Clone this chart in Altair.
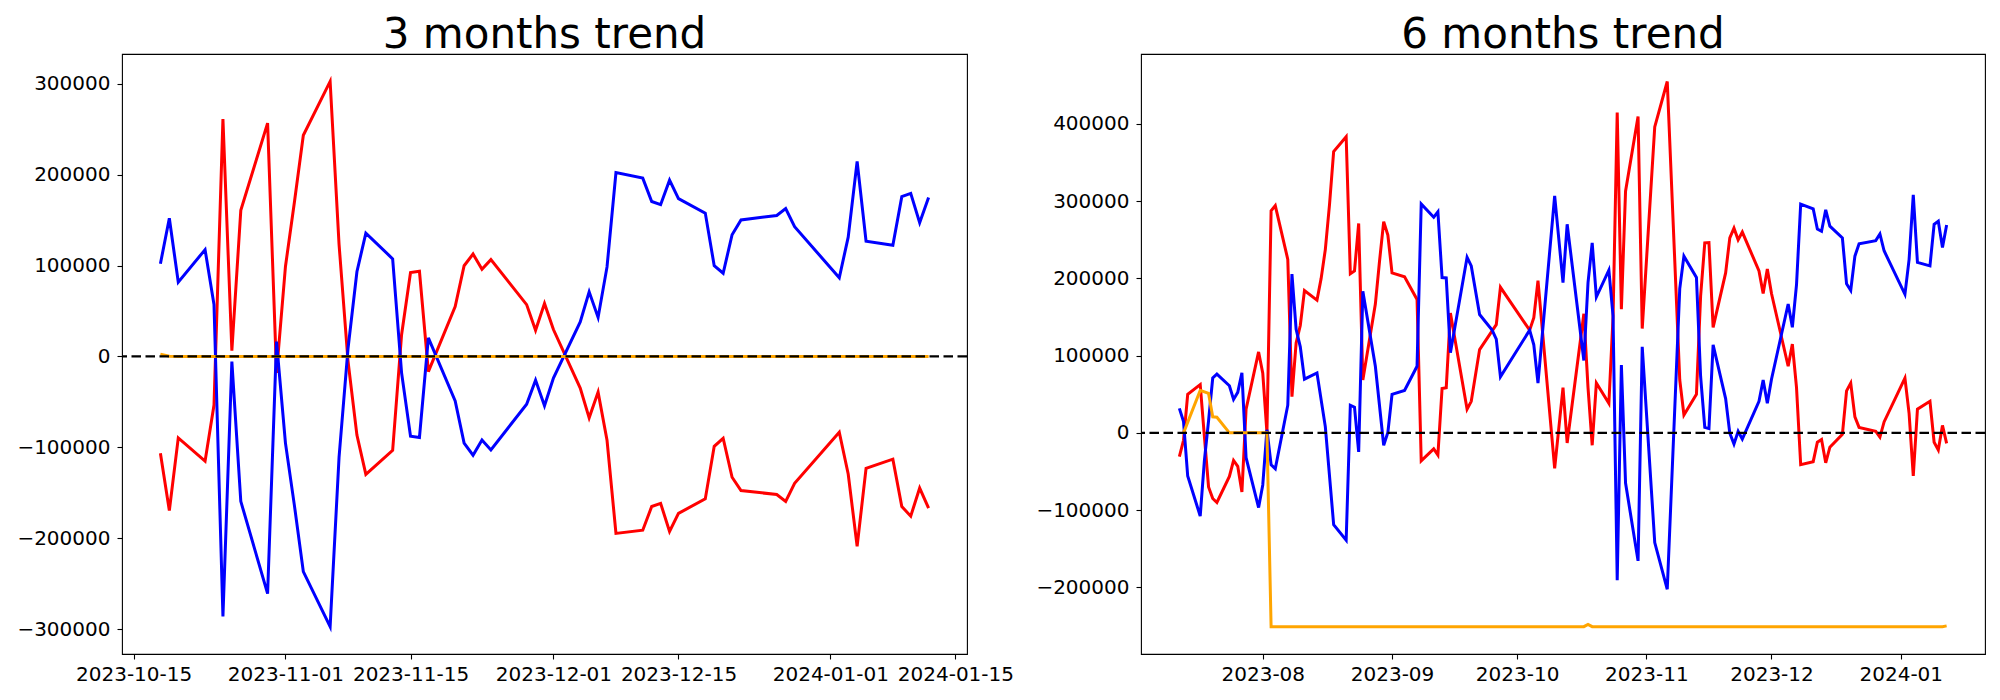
import altair as alt
import pandas as pd

# ---------------- 3 months trend ----------------
m3_dates = [
    "2023-10-18", "2023-10-19", "2023-10-20", "2023-10-23", "2023-10-24", "2023-10-25", "2023-10-26",
    "2023-10-27", "2023-10-30", "2023-10-31", "2023-11-01", "2023-11-02", "2023-11-03", "2023-11-06",
    "2023-11-07", "2023-11-08", "2023-11-09", "2023-11-10", "2023-11-13", "2023-11-14", "2023-11-15",
    "2023-11-16", "2023-11-17", "2023-11-20", "2023-11-21", "2023-11-22", "2023-11-23", "2023-11-24",
    "2023-11-28", "2023-11-29", "2023-11-30", "2023-12-01", "2023-12-04", "2023-12-05", "2023-12-06",
    "2023-12-07", "2023-12-08", "2023-12-11", "2023-12-12", "2023-12-13", "2023-12-14", "2023-12-15",
    "2023-12-18", "2023-12-19", "2023-12-20", "2023-12-21", "2023-12-22", "2023-12-26", "2023-12-27",
    "2023-12-28", "2024-01-02", "2024-01-03", "2024-01-04", "2024-01-05", "2024-01-08", "2024-01-09",
    "2024-01-10", "2024-01-11", "2024-01-12",
]
m3_blue = [
    102000, 152000, 81700, 117500, 57000, -286300, -5700,
    -159500, -261100, 16300, -95400, -163900, -236800, -297300,
    -110900, 8400, 93200, 135600, 107400, -18100, -87900,
    -89200, 20300, -49000, -95400, -108700, -91900, -102900,
    -52600, -26100, -54300, -23900, 38000, 71100, 42900,
    98500, 202300, 196200, 170500, 167000, 194000, 173600,
    157700, 99800, 91500, 133900, 150200, 155100, 162600,
    142700, 86600, 131200, 214700, 126800, 122400, 175800,
    179400, 147100, 175000,
]
m3_red = [
    -106500, -169700, -89700, -115300, -53500, 261100, 6200,
    160800, 256700, -18100, 99000, 169700, 243400, 302600,
    123300, -4900, -86600, -129900, -103400, 23900, 92300,
    93700, -16800, 54800, 99800, 112700, 95900, 106500,
    57000, 28700, 58300, 29600, -34900, -67600, -39300,
    -92300, -194800, -191300, -165200, -161700, -192600, -172700,
    -156800, -99000, -90100, -133000, -147600, -152000, -159500,
    -139600, -83500, -129400, -209000, -123300, -113100, -165200,
    -175800, -144900, -167000,
]
m3_orange = [
    2500, 300, 0, 0, 0, 0, 0,
    0, 0, 0, 0, 0, 0, 0,
    0, 0, 0, 0, 0, 0, 0,
    0, 0, 0, 0, 0, 0, 0,
    0, 0, 0, 0, 0, 0, 0,
    0, 0, 0, 0, 0, 0, 0,
    0, 0, 0, 0, 0, 0, 0,
    0, 0, 0, 0, 0, 0, 0,
    0, 0, 0,
]
m3_xticks = ["2023-10-15", "2023-11-01", "2023-11-15", "2023-12-01", "2023-12-15", "2024-01-01", "2024-01-15"]
m3_yticks = [-300000, -200000, -100000, 0, 100000, 200000, 300000]

# ---------------- 6 months trend ----------------
m6_blue_dates = [
    "2023-07-12", "2023-07-13", "2023-07-14", "2023-07-17", "2023-07-18", "2023-07-19", "2023-07-20",
    "2023-07-21", "2023-07-24", "2023-07-25", "2023-07-26", "2023-07-27", "2023-07-28", "2023-07-31",
    "2023-08-01", "2023-08-02", "2023-08-03", "2023-08-04", "2023-08-07", "2023-08-08", "2023-08-09",
    "2023-08-10", "2023-08-11", "2023-08-14", "2023-08-16", "2023-08-18", "2023-08-21", "2023-08-22",
    "2023-08-23", "2023-08-24", "2023-08-25", "2023-08-28", "2023-08-30", "2023-08-31", "2023-09-01",
    "2023-09-04", "2023-09-07", "2023-09-08", "2023-09-11", "2023-09-12", "2023-09-13", "2023-09-14",
    "2023-09-15", "2023-09-19", "2023-09-20", "2023-09-22", "2023-09-25", "2023-09-26", "2023-09-27",
    "2023-10-04", "2023-10-05", "2023-10-06", "2023-10-10", "2023-10-12", "2023-10-13", "2023-10-17",
    "2023-10-18", "2023-10-19", "2023-10-20", "2023-10-23", "2023-10-24", "2023-10-25", "2023-10-26",
    "2023-10-27", "2023-10-30", "2023-10-31", "2023-11-03", "2023-11-06", "2023-11-09", "2023-11-10",
    "2023-11-13", "2023-11-14", "2023-11-15", "2023-11-16", "2023-11-17", "2023-11-20", "2023-11-21",
    "2023-11-22", "2023-11-23", "2023-11-24", "2023-11-28", "2023-11-29", "2023-11-30", "2023-12-01",
    "2023-12-05", "2023-12-06", "2023-12-07", "2023-12-08", "2023-12-11", "2023-12-12", "2023-12-13",
    "2023-12-14", "2023-12-15", "2023-12-18", "2023-12-19", "2023-12-20", "2023-12-21", "2023-12-22",
    "2023-12-26", "2023-12-27", "2023-12-28", "2024-01-02", "2024-01-03", "2024-01-04", "2024-01-05",
    "2024-01-08", "2024-01-09", "2024-01-10", "2024-01-11", "2024-01-12",
]
m6_blue = [
    31700, 14600, -55900, -107800, -36000, 15600, 71000,
    76000, 61000, 43300, 52400, 77600, -32200, -96700,
    -67500, 4000, -41300, -46400, 35800, 205600, 134000,
    111400, 69500, 77600, 8100, -118900, -139100, 35800,
    33300, -24700, 183400, 86200, -16100, 500, 49900,
    54900, 86200, 296300, 279200, 286200, 201100, 200600,
    103800, 227300, 216200, 153200, 133000, 121400, 72600,
    133000, 113900, 64500, 306900, 194500, 270100, 93700,
    194500, 245900, 175900, 210600, 151700, -191000, 87700,
    -65000, -165800, 111400, -142100, -202600, 186900, 228800,
    201100, 73000, 7000, 5500, 113900, 44300, -500,
    -14600, 2000, -8100, 40800, 68500, 38300, 69500,
    166800, 136600, 192000, 296300, 290200, 264000, 261000,
    288700, 267600, 252500, 193000, 184400, 228800, 244900,
    248900, 257500, 235800, 179400, 224700, 308300, 220700,
    216200, 270100, 274100, 239900, 269100,
]
m6_red_dates = [
    "2023-07-12", "2023-07-13", "2023-07-14", "2023-07-17", "2023-07-18", "2023-07-19", "2023-07-20",
    "2023-07-21", "2023-07-24", "2023-07-25", "2023-07-26", "2023-07-27", "2023-07-28", "2023-07-31",
    "2023-08-01", "2023-08-02", "2023-08-03", "2023-08-04", "2023-08-07", "2023-08-08", "2023-08-09",
    "2023-08-10", "2023-08-11", "2023-08-14", "2023-08-15", "2023-08-16", "2023-08-17", "2023-08-18",
    "2023-08-21", "2023-08-22", "2023-08-23", "2023-08-24", "2023-08-25", "2023-08-28", "2023-08-29",
    "2023-08-30", "2023-08-31", "2023-09-01", "2023-09-04", "2023-09-07", "2023-09-08", "2023-09-11",
    "2023-09-12", "2023-09-13", "2023-09-14", "2023-09-15", "2023-09-19", "2023-09-20", "2023-09-22",
    "2023-09-26", "2023-09-27", "2023-10-04", "2023-10-05", "2023-10-06", "2023-10-10", "2023-10-12",
    "2023-10-13", "2023-10-17", "2023-10-18", "2023-10-19", "2023-10-20", "2023-10-23", "2023-10-24",
    "2023-10-25", "2023-10-26", "2023-10-27", "2023-10-30", "2023-10-31", "2023-11-03", "2023-11-06",
    "2023-11-09", "2023-11-10", "2023-11-13", "2023-11-14", "2023-11-15", "2023-11-16", "2023-11-17",
    "2023-11-20", "2023-11-21", "2023-11-22", "2023-11-23", "2023-11-24", "2023-11-28", "2023-11-29",
    "2023-11-30", "2023-12-01", "2023-12-05", "2023-12-06", "2023-12-07", "2023-12-08", "2023-12-11",
    "2023-12-12", "2023-12-13", "2023-12-14", "2023-12-15", "2023-12-18", "2023-12-19", "2023-12-20",
    "2023-12-21", "2023-12-22", "2023-12-26", "2023-12-27", "2023-12-28", "2024-01-02", "2024-01-03",
    "2024-01-04", "2024-01-05", "2024-01-08", "2024-01-09", "2024-01-10", "2024-01-11", "2024-01-12",
]
m6_red = [
    -30700, -9600, 49900, 62500, -4500, -70000, -85000,
    -90200, -56400, -35800, -43300, -76600, 30700, 104800,
    77100, 500, 287700, 294300, 224700, 46900, 116400,
    139000, 184400, 171800, 200000, 237300, 295300, 364300,
    383500, 206100, 209600, 271100, 68500, 166800, 222200,
    273600, 256000, 207100, 202100, 172800, -36300, -20700,
    -28700, 57400, 58500, 155200, 30700, 40800, 107800,
    140100, 188500, 133000, 149200, 197000, -45900, 58500,
    -13100, 154200, 58500, -16100, 64500, 38300, 149200,
    414700, 160200, 312900, 409700, 135000, 396100, 455000,
    68500, 23200, 49900, 177000, 245900, 246400, 136600,
    207100, 252500, 265000, 249900, 260000, 209600, 180400,
    212100, 180400, 86200, 114900, 58500, -41300, -37300,
    -12100, -8600, -38800, -18600, -2000, 54400, 64500,
    20700, 7100, 2000, -5500, 14100, 71000, 25000,
    -55900, 30700, 40800, -12100, -22200, 9600, -13600,
]
m6_orange_dates = [
    "2023-07-13", "2023-07-17", "2023-07-19", "2023-07-20", "2023-07-21", "2023-07-24", "2023-08-02",
    "2023-08-03", "2023-10-17", "2023-10-18", "2023-10-19", "2024-01-11", "2024-01-12",
]
m6_orange = [
    0, 55000, 51000, 20700, 20200, 0, 0,
    -251000, -251000, -248000, -251000, -251000, -250000,
]
m6_xticks = ["2023-08-01", "2023-09-01", "2023-10-01", "2023-11-01", "2023-12-01", "2024-01-01"]
m6_yticks = [-200000, -100000, 0, 100000, 200000, 300000, 400000]


def dt(s, hours=0, minutes=0):
    y, m, d = (int(p) for p in s.split("-"))
    return alt.DateTime(year=y, month=m, date=d, hours=hours, minutes=minutes)


def panel(series, title, xdom, xticks, xfmt, ydom, yticks, width):
    layers = []
    for dates, vals, color in series:
        df = pd.DataFrame({"date": pd.to_datetime(dates), "value": vals})
        layers.append(
            alt.Chart(df)
            .mark_line(color=color, strokeWidth=3)
            .encode(
                x=alt.X(
                    "date:T",
                    scale=alt.Scale(domain=xdom, nice=False),
                    axis=alt.Axis(values=[dt(t) for t in xticks], format=xfmt, title=None,
                                  labelOverlap=False, labelFlush=False, labelPadding=5),
                ),
                y=alt.Y(
                    "value:Q",
                    scale=alt.Scale(domain=ydom, nice=False, zero=False),
                    axis=alt.Axis(values=yticks, format="d", title=None, labelOverlap=False,
                                  labelFlush=False, labelPadding=7),
                ),
            )
        )
    zero = (
        alt.Chart(pd.DataFrame({"z": [0]}))
        .mark_rule(color="black", strokeDash=[9.5, 4.5], strokeWidth=2.1)
        .encode(y="z:Q")
    )
    return alt.layer(*layers, zero).properties(width=width, height=600, title=title)


left = panel(
    [(m3_dates, m3_red, "red"), (m3_dates, m3_blue, "blue"), (m3_dates, m3_orange, "orange")],
    "3 months trend",
    [dt("2023-10-13", 16, 48), dt("2024-01-16", 7, 12)],
    m3_xticks, "%Y-%m-%d",
    [-327500, 332800], m3_yticks, 845,
)
right = panel(
    [(m6_red_dates, m6_red, "red"), (m6_blue_dates, m6_blue, "blue"),
     (m6_orange_dates, m6_orange, "orange")],
    "6 months trend",
    [dt("2023-07-02", 19, 12), dt("2024-01-21", 4, 48)],
    m6_xticks, "%Y-%m",
    [-286400, 490600], m6_yticks, 844,
)

chart = (
    alt.hconcat(left, right, spacing=174, bounds="flush")
    .properties(padding={"left": 8, "top": 5, "right": 2, "bottom": 0})
    .configure_view(stroke="black", strokeWidth=1.1)
    .configure_axis(
        domain=False, grid=False, tickColor="black", tickSize=5, tickWidth=1.1,
        labelFont="DejaVu Sans", labelFontSize=20, labelColor="black",
    )
    .configure_title(
        font="DejaVu Sans", fontSize=42, fontWeight="normal", color="black",
        anchor="middle", baseline="alphabetic", offset=-3,
    )
)

chart.save("out.html", embed_options={"renderer": "svg", "actions": False})
